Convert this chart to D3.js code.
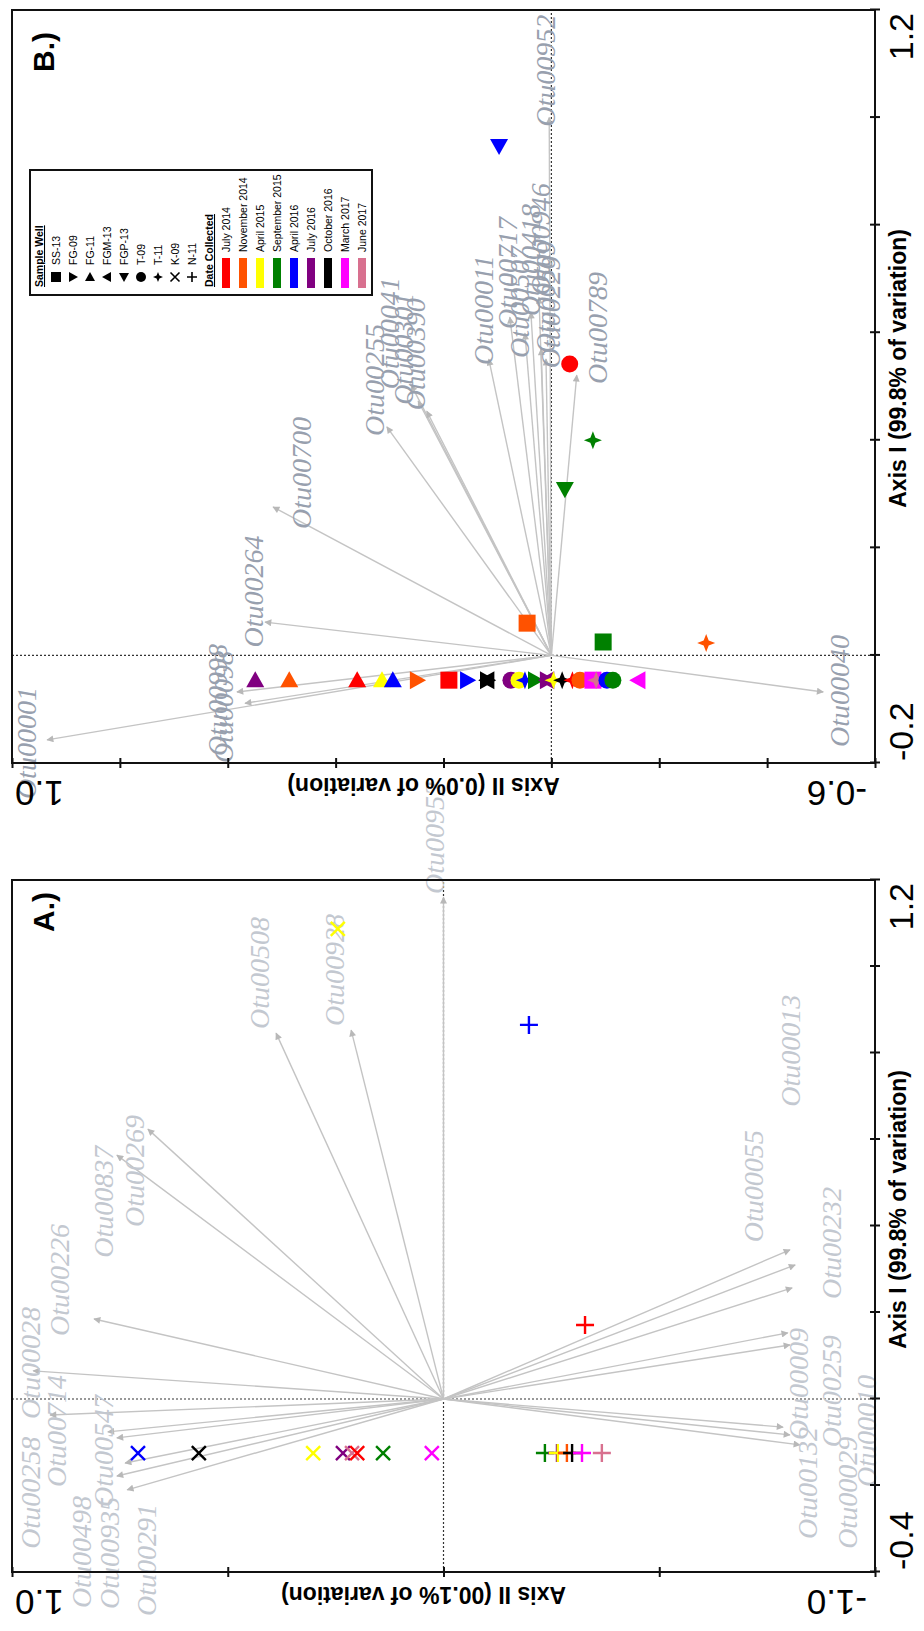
<!DOCTYPE html>
<html><head><meta charset="utf-8">
<script src="https://cdn.jsdelivr.net/npm/d3@7"></script>
<style>html,body{margin:0;padding:0;background:#fff;}svg{display:block;}</style>
</head><body>
<svg id="fig" width="924" height="1631"></svg>
<script>
// ---- categories ----
const wellNames = ["SS-13","FG-09","FG-11","FGM-13","FGP-13","T-09","T-11","K-09","N-11"];
const dateNames = ["July 2014","November 2014","April 2015","September 2015","April 2016","July 2016","October 2016","March 2017","June 2017"];

// ---- panel A : OTU vectors (tip and label position, axis units) ----
const aOtuNames = ["Otu00952","Otu00508","Otu00928","Otu00269","Otu00837","Otu00226","Otu00028","Otu00714","Otu00258","Otu00547","Otu00935","Otu00498","Otu00291","Otu00055","Otu00013","Otu00232","Otu00009","Otu00259","Otu00132","Otu00029","Otu00010"];
const aOtuAxis1 = [1.16,0.846,0.853,0.624,0.564,0.185,0.065,-0.037,-0.076,-0.090,-0.148,-0.178,-0.210,0.345,0.310,0.257,0.153,0.125,-0.065,-0.083,-0.106];
const aOtuAxis2 = [0.0,0.388,0.214,0.685,0.757,0.810,0.951,0.912,0.778,0.757,0.738,0.757,0.733,-0.803,-0.815,-0.808,-0.798,-0.803,-0.787,-0.803,-0.826];
const aLabelAxis1 = [1.297,0.985,0.992,0.527,0.456,0.275,0.083,-0.074,-0.217,-0.120,-0.356,-0.354,-0.372,0.492,0.805,0.361,0.035,0.018,-0.194,-0.217,-0.074];
const aLabelAxis2 = [0.020,0.425,0.251,0.715,0.787,0.889,0.956,0.896,0.956,0.787,0.773,0.838,0.687,-0.720,-0.805,-0.900,-0.824,-0.900,-0.845,-0.937,-0.981];

// ---- panel A : samples ----
const aSampleWell  = ["K-09","K-09","K-09","K-09","K-09","K-09","K-09","K-09","K-09","N-11","N-11","N-11","N-11","N-11","N-11","N-11","N-11","N-11"];
const aSampleDate  = ["April 2016","October 2016","April 2015","July 2016","June 2017","July 2014","September 2015","March 2017","April 2015","September 2015","July 2016","April 2015","November 2014","October 2016","March 2017","June 2017","April 2016","July 2014"];
const aSampleAxis1 = [-0.125,-0.125,-0.125,-0.125,-0.125,-0.125,-0.125,-0.125,1.087,-0.125,-0.125,-0.125,-0.125,-0.125,-0.125,-0.125,0.865,0.171];
const aSampleAxis2 = [0.708,0.567,0.302,0.233,0.212,0.200,0.140,0.027,0.245,-0.235,-0.263,-0.265,-0.286,-0.298,-0.321,-0.367,-0.198,-0.328];

// ---- panel B : OTU vectors ----
const bOtuNames = ["Otu00001","Otu00998","Otu00098","Otu00264","Otu00700","Otu00255","Otu00041","Otu00301","Otu00390","Otu00011","Otu00717","Otu00507","Otu00418","Otu00946","Otu00509","Otu00229","Otu00789","Otu00952","Otu00040"];
const bOtuAxis1 = [-0.157,-0.068,-0.089,0.062,0.276,0.425,0.503,0.473,0.454,0.551,0.629,0.599,0.638,0.666,0.570,0.551,0.521,1.0,-0.068];
const bOtuAxis2 = [0.935,0.583,0.568,0.531,0.516,0.305,0.260,0.247,0.231,0.116,0.077,0.049,0.038,0.023,0.019,0.010,-0.047,0.004,-0.504];
const bLabelAxis1 = [-0.163,-0.083,-0.096,0.119,0.339,0.512,0.599,0.570,0.560,0.642,0.711,0.657,0.735,0.774,0.666,0.638,0.609,1.087,-0.066];
const bLabelAxis2 = [0.972,0.618,0.607,0.551,0.462,0.327,0.299,0.273,0.251,0.125,0.080,0.058,0.038,0.019,0.010,0.001,-0.086,0.010,-0.535];

// ---- panel B : samples ----
const bSampleWell = ["FG-11","FG-11","FG-11","FG-11","FG-11","FG-09","SS-13","FG-09","FG-09","FGM-13","T-09","T-09","T-11","FG-09","FG-09","FGM-13","T-11","T-11","T-11","T-09","SS-13","T-11","T-09","T-09","FGM-13","FGP-13","T-09","T-11","FGP-13","SS-13","SS-13","T-11"];
const bSampleDate = ["July 2016","November 2014","July 2014","April 2015","April 2016","November 2014","July 2014","April 2016","October 2016","October 2016","July 2016","April 2015","April 2016","September 2015","July 2016","July 2016","April 2015","October 2016","July 2014","November 2014","March 2017","June 2017","April 2016","September 2015","March 2017","April 2016","July 2014","September 2015","September 2015","November 2014","September 2015","November 2014"];
const bSampleAxis1 = [-0.046,-0.046,-0.046,-0.046,-0.046,-0.046,-0.046,-0.046,-0.046,-0.046,-0.046,-0.046,-0.046,-0.046,-0.046,-0.046,-0.046,-0.046,-0.046,-0.046,-0.046,-0.046,-0.046,-0.046,-0.046,0.947,0.542,0.400,0.309,0.060,0.025,0.023];
const bSampleAxis2 = [0.549,0.486,0.360,0.314,0.294,0.249,0.190,0.156,0.119,0.119,0.075,0.060,0.049,0.030,0.008,0.008,-0.004,-0.020,-0.039,-0.053,-0.077,-0.083,-0.103,-0.114,-0.161,0.097,-0.034,-0.077,-0.025,0.045,-0.096,-0.287];

// ---- axis ticks ----
const aTicksX = [-0.4,-0.2,0,0.2,0.4,0.6,0.8,1.0,1.2];
const aTicksY = [-1.0,-0.5,0,0.5,1.0];
const bTicksX = [-0.2,0,0.2,0.4,0.6,0.8,1.0,1.2];
const bTicksY = [-0.6,-0.4,-0.2,0,0.2,0.4,0.6,0.8,1.0];

// ---- styling ----
const dateColors = {"July 2014":"#ff0000","November 2014":"#ff5200","April 2015":"#ffff00","September 2015":"#008000",
  "April 2016":"#0000ff","July 2016":"#800080","October 2016":"#000000","March 2017":"#ff00ff","June 2017":"#d8708f"};
const wellShape = {"SS-13":"square","FG-09":"triDown","FG-11":"triRight","FGM-13":"triUp","FGP-13":"triLeft",
  "T-09":"circle","T-11":"star","K-09":"x","N-11":"plus"};

function shapePath(s, r){
  switch(s){
    case "square": return `M${-r},${-r}H${r}V${r}H${-r}Z`;
    case "circle": return d3.arc()({innerRadius:0,outerRadius:r,startAngle:0,endAngle:2*Math.PI});
    case "triUp": return `M0,${-r}L${r},${r*0.8}L${-r},${r*0.8}Z`;
    case "triDown": return `M0,${r}L${r},${-r*0.8}L${-r},${-r*0.8}Z`;
    case "triRight": return `M${r},0L${-r*0.8},${r}L${-r*0.8},${-r}Z`;
    case "triLeft": return `M${-r},0L${r*0.8},${r}L${r*0.8},${-r}Z`;
    case "star": { const k=r*0.28; return `M0,${-r}L${k},${-k}L${r},0L${k},${k}L0,${r}L${-k},${k}L${-r},0L${-k},${-k}Z`; }
    case "x": return `M${-r},${-r}L${r},${r}M${-r},${r}L${r},${-r}`;
    case "plus": return `M${-r},0H${r}M0,${-r}V${r}`;
  }
}
const lineShapes = new Set(["x","plus"]);

const svg = d3.select("#fig");
const defs = svg.append("defs");
defs.append("marker").attr("id","arrow").attr("viewBox","0 0 10 10").attr("refX",9).attr("refY",5)
  .attr("markerUnits","userSpaceOnUse").attr("markerWidth",9).attr("markerHeight",7).attr("orient","auto")
  .append("path").attr("d","M0,0L10,5L0,10Z").attr("fill","#b8b8b8");

// whole figure drawn in landscape and turned to portrait
const root = svg.append("g").attr("transform","translate(0,1631) rotate(-90)");
const fnum = "'Liberation Sans',Arial,sans-serif";
const tf = v => v.toFixed(1);

function drawPanel(cfg){
  const g = root.append("g");
  const x = d3.scaleLinear().domain(cfg.xDomain).range([cfg.left,cfg.right]);
  const y = d3.scaleLinear().domain(cfg.yDomain).range([cfg.bottom,cfg.top]);

  // zero reference lines
  g.append("line").attr("x1",x(0)).attr("x2",x(0)).attr("y1",cfg.top).attr("y2",cfg.bottom)
    .attr("stroke","#333").attr("stroke-width",1.2).attr("stroke-dasharray","2,2");
  g.append("line").attr("x1",cfg.left).attr("x2",cfg.right).attr("y1",y(0)).attr("y2",y(0))
    .attr("stroke","#333").attr("stroke-width",1.2).attr("stroke-dasharray","2,2");

  // OTU vectors
  const vec = cfg.otuNames.map((n,i)=>({name:n,a1:cfg.otuA1[i],a2:cfg.otuA2[i],l1:cfg.labA1[i],l2:cfg.labA2[i]}));
  g.append("g").selectAll("line").data(vec).join("line")
    .attr("x1",x(0)).attr("y1",y(0)).attr("x2",d=>x(d.a1)).attr("y2",d=>y(d.a2))
    .attr("stroke","#c4c4c4").attr("stroke-width",1.4).attr("marker-end","url(#arrow)");
  g.append("g").selectAll("text").data(vec).join("text")
    .text(d=>d.name).attr("font-family","'Liberation Serif','Times New Roman',serif")
    .attr("font-style","italic").attr("font-size",28).attr("fill",cfg.labelColor)
    .attr("text-anchor","middle").attr("x",d=>x(d.l1)).attr("y",d=>y(d.l2)+9);

  // samples
  const pts = cfg.sWell.map((w,i)=>({well:w,date:cfg.sDate[i],a1:cfg.sA1[i],a2:cfg.sA2[i]}));
  g.append("g").selectAll("path").data(pts).join("path")
    .attr("transform",d=>`translate(${x(d.a1)},${y(d.a2)})`)
    .attr("d",d=>{const s=wellShape[d.well];return shapePath(s, s==="x"?7:(s==="plus"?9:(s==="circle"?8.5:(s==="square"?8.5:9))));})
    .attr("fill",d=>lineShapes.has(wellShape[d.well])?"none":dateColors[d.date])
    .attr("stroke",d=>lineShapes.has(wellShape[d.well])?dateColors[d.date]:"none")
    .attr("stroke-width",2.4);

  // frame
  g.append("rect").attr("x",cfg.left).attr("y",cfg.top).attr("width",cfg.right-cfg.left).attr("height",cfg.bottom-cfg.top)
    .attr("fill","none").attr("stroke","#111").attr("stroke-width",2);

  // axes with ticks crossing the frame
  const ax = g.append("g").attr("transform",`translate(0,${cfg.bottom})`)
    .call(d3.axisBottom(x).tickValues(cfg.ticksX).tickFormat("").tickSize(5));
  ax.select(".domain").remove();
  ax.selectAll(".tick line").attr("y1",-5).attr("y2",5).attr("stroke","#111").attr("stroke-width",2);
  const ay = g.append("g").attr("transform",`translate(${cfg.left},0)`)
    .call(d3.axisLeft(y).tickValues(cfg.ticksY).tickFormat("").tickSize(5));
  ay.select(".domain").remove();
  ay.selectAll(".tick line").attr("x1",-5).attr("x2",5).attr("stroke","#111").attr("stroke-width",2);

  // end tick labels
  const xd = cfg.xDomain;
  g.append("text").attr("x",x(xd[0])+2).attr("y",cfg.bottom+38).attr("text-anchor","start")
    .attr("font-family",fnum).attr("font-size",34).text(tf(xd[0]));
  g.append("text").attr("x",x(xd[1])-3).attr("y",cfg.bottom+38).attr("text-anchor","end")
    .attr("font-family",fnum).attr("font-size",34).text(tf(xd[1]));
  const yd = cfg.yDomain;
  g.append("text").attr("transform",`translate(${cfg.left-18},${y(yd[1])+3}) rotate(-90)`).attr("text-anchor","end")
    .attr("font-family",fnum).attr("font-size",35).text(tf(yd[1]));
  g.append("text").attr("transform",`translate(${cfg.left-18},${y(yd[0])-8}) rotate(-90)`).attr("text-anchor","start")
    .attr("font-family",fnum).attr("font-size",35).text(tf(yd[0]));

  // axis titles
  g.append("text").attr("x",cfg.left+0.524*(cfg.right-cfg.left)).attr("y",cfg.bottom+31)
    .attr("text-anchor","middle").attr("font-family",fnum).attr("font-weight","bold").attr("font-size",23)
    .text(cfg.xTitle);
  g.append("text").attr("transform",`translate(${cfg.left-15},${(cfg.top+cfg.bottom)/2-20}) rotate(-90)`)
    .attr("text-anchor","middle").attr("font-family",fnum).attr("font-weight","bold").attr("font-size",23)
    .text(cfg.yTitle);

  // panel tag
  g.append("text").attr("x",cfg.right-cfg.tagInset).attr("y",cfg.top+42).attr("text-anchor","end")
    .attr("font-family",fnum).attr("font-weight","bold").attr("font-size",30).text(cfg.tag);
  return {g,x,y};
}

drawPanel({tag:"A.)",tagInset:12,left:59,right:751,top:12,bottom:875,xDomain:[-0.4,1.2],yDomain:[-1.0,1.0],
  ticksX:aTicksX,ticksY:aTicksY,labelColor:"#c3c8d0",
  xTitle:"Axis I (99.8% of variation)",yTitle:"Axis II (00.1% of variation)",
  otuNames:aOtuNames,otuA1:aOtuAxis1,otuA2:aOtuAxis2,labA1:aLabelAxis1,labA2:aLabelAxis2,
  sWell:aSampleWell,sDate:aSampleDate,sA1:aSampleAxis1,sA2:aSampleAxis2});

const pB = drawPanel({tag:"B.)",tagInset:22,left:868,right:1621,top:12,bottom:875,xDomain:[-0.2,1.2],yDomain:[-0.6,1.0],
  ticksX:bTicksX,ticksY:bTicksY,labelColor:"#98a0ae",
  xTitle:"Axis I (99.8% of variation)",yTitle:"Axis II (0.0% of variation)",
  otuNames:bOtuNames,otuA1:bOtuAxis1,otuA2:bOtuAxis2,labA1:bLabelAxis1,labA2:bLabelAxis2,
  sWell:bSampleWell,sDate:bSampleDate,sA1:bSampleAxis1,sA2:bSampleAxis2});

// legend inside panel B
(function(){
  const lg = pB.g.append("g");
  const lx = 1336, ly = 30, lw = 125, step = 17;
  const rows = [{t:"Sample Well",h:true}].concat(wellNames.map(w=>({t:w,well:w})),
    [{t:"Date Collected",h:true}], dateNames.map(d=>({t:d,date:d})));
  lg.append("rect").attr("x",lx).attr("y",ly).attr("width",lw).attr("height",step*rows.length+2)
    .attr("fill","#fff").attr("stroke","#111").attr("stroke-width",2);
  rows.forEach((r,i)=>{
    const cy = ly+9+i*step;
    if(r.h){
      lg.append("text").attr("x",lx+8).attr("y",cy+4).attr("font-family",fnum).attr("font-size",10.5)
        .attr("font-weight","bold").attr("text-decoration","underline").text(r.t);
    } else if(r.well){
      const s = wellShape[r.well];
      lg.append("path").attr("transform",`translate(${lx+18},${cy})`).attr("d",shapePath(s,s==="x"?4.5:5))
        .attr("fill",lineShapes.has(s)?"none":"#000").attr("stroke",lineShapes.has(s)?"#000":"none").attr("stroke-width",1.6);
      lg.append("text").attr("x",lx+30).attr("y",cy+4).attr("font-family",fnum).attr("font-size",10.5).text(r.t);
    } else {
      lg.append("rect").attr("x",lx+7).attr("y",cy-4).attr("width",30).attr("height",8).attr("fill",dateColors[r.date]);
      lg.append("text").attr("x",lx+43).attr("y",cy+4).attr("font-family",fnum).attr("font-size",10.5).text(r.t);
    }
  });
})();
</script>
</body></html>
